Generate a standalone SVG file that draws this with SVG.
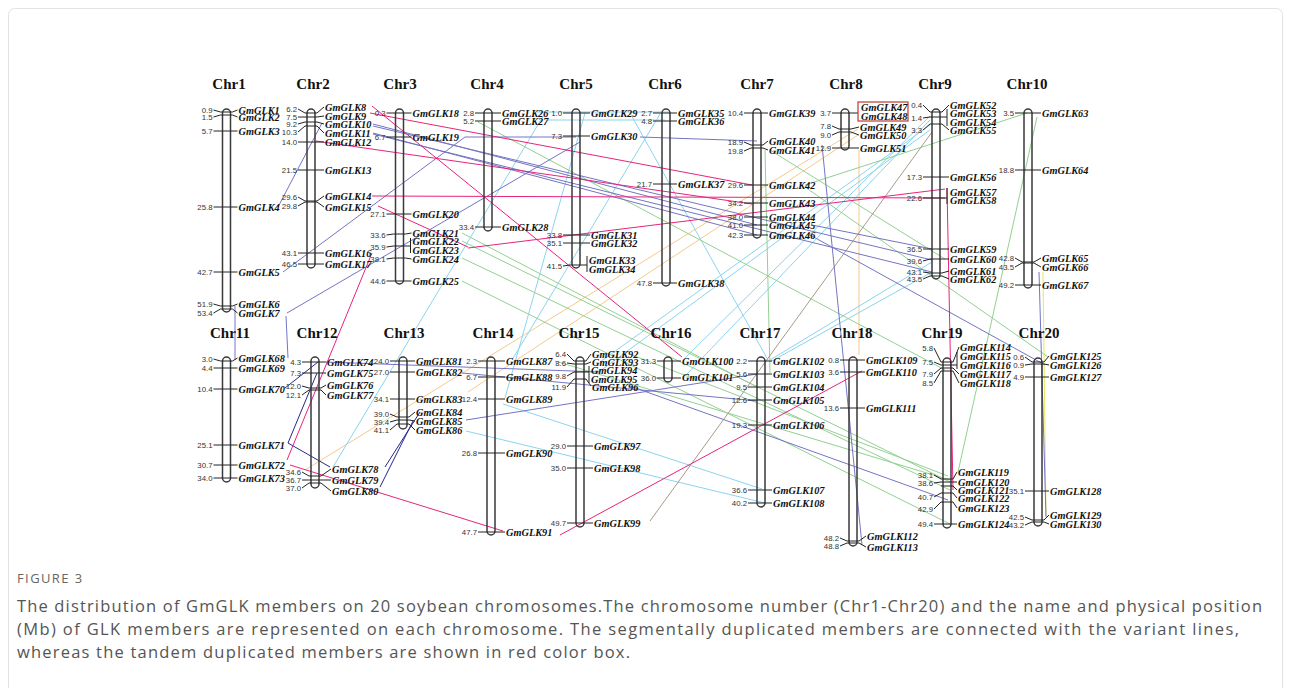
<svg xmlns="http://www.w3.org/2000/svg" width="1291" height="688" viewBox="0 0 1291 688">
<style>
.bg{fill:#fff}
.frame{fill:none;stroke:#e2e2e2;stroke-width:1}
.title{font-family:"Liberation Serif",serif;font-weight:bold;font-size:15px;fill:#111;text-anchor:middle}
.chr{fill:none;stroke:#3a3a3a;stroke-width:1.5}
.t{fill:none;stroke:#222;stroke-width:1}
.n{font-family:"Liberation Sans",Arial,sans-serif;font-size:7.8px;fill:#333;text-anchor:end}
.g{font-family:"Liberation Serif",serif;font-style:italic;font-weight:bold;font-size:10.3px;fill:#111}
.box{fill:none;stroke:#c0392b;stroke-width:1.2}
.c path{fill:none;stroke-width:1}
.pk{stroke:#e6247a}
.pu{stroke:#7474c4}
.nv{stroke:#262690}
.cy{stroke:#8ad4ef}
.gr{stroke:#92d092}
.or{stroke:#f6c98c}
.br{stroke:#a89a88}
.ye{stroke:#e8e85a}
.cap{font-family:"Open Sans","Liberation Sans",sans-serif;font-size:16.5px;fill:#555}
.fig{font-family:"Open Sans","Liberation Sans",sans-serif;font-size:13px;fill:#666;letter-spacing:1.4px}
</style>
<rect class="bg" x="0" y="0" width="1291" height="688"/>
<rect class="frame" x="8.5" y="8.5" width="1274" height="700" rx="6"/>

<g id="connectors" class="c">
<path class="or" d="M858 129L305 470"/>
<path class="or" d="M858 135L468 392"/>
<path class="or" d="M859 150L859 355"/>
<path class="cy" d="M537 112L670 112"/>
<path class="cy" d="M545 120L665 120"/>
<path class="cy" d="M585 113L505 398"/>
<path class="cy" d="M545 113L333 467"/>
<path class="cy" d="M930 116L685 358"/>
<path class="cy" d="M930 120L685 376"/>
<path class="cy" d="M930 125L600 362"/>
<path class="cy" d="M930 130L600 371"/>
<path class="cy" d="M932 262L770 360"/>
<path class="cy" d="M932 272L770 362"/>
<path class="cy" d="M630 113L768 360"/>
<path class="cy" d="M660 114L512 360"/>
<path class="cy" d="M503 404L762 489"/>
<path class="cy" d="M466 431L765 503"/>
<path class="gr" d="M478 122L945 370"/>
<path class="gr" d="M1027 113L805 185"/>
<path class="gr" d="M1037 117L958 472"/>
<path class="gr" d="M770 150L945 259"/>
<path class="gr" d="M805 187L1048 357"/>
<path class="gr" d="M765 150L770 373"/>
<path class="gr" d="M462 241L950 482"/>
<path class="gr" d="M462 258L950 490"/>
<path class="gr" d="M462 281L950 524"/>
<path class="gr" d="M462 233L757 387"/>
<path class="gr" d="M555 361L950 480"/>
<path class="gr" d="M632 355L948 476"/>
<path class="br" d="M650 521L932 132"/>
<path class="ye" d="M1043 272L1046 516"/>
<path class="pu" d="M278 207L322 123"/>
<path class="pu" d="M283 272L465 137"/>
<path class="pu" d="M287 313L580 142"/>
<path class="pu" d="M286 316L288 358"/>
<path class="pu" d="M235 306L235 360"/>
<path class="pu" d="M465 137L576 137"/>
<path class="pu" d="M640 137L757 141"/>
<path class="pu" d="M373 124L757 225"/>
<path class="pu" d="M373 133L757 235"/>
<path class="pu" d="M373 126L932 260"/>
<path class="pu" d="M373 134L932 272"/>
<path class="pu" d="M822 145L862 545"/>
<path class="pu" d="M1039 272L1046 517"/>
<path class="pu" d="M466 420L757 374"/>
<path class="pu" d="M810 235L1045 365"/>
<path class="pu" d="M812 225L932 249"/>
<path class="pu" d="M630 386L948 500"/>
<path class="pu" d="M462 373L757 401"/>
<path class="pu" d="M326 362L600 372"/>
<path class="nv" d="M318 362L285 388"/>
<path class="nv" d="M317 373L288 443"/>
<path class="nv" d="M288 443L330 467"/>
<path class="nv" d="M385 467L420 412"/>
<path class="nv" d="M380 487L413 421"/>
<path class="pk" d="M372 106L682 357"/>
<path class="pk" d="M370 113L752 185"/>
<path class="pk" d="M316 141L752 204"/>
<path class="pk" d="M372 196L945 198"/>
<path class="pk" d="M378 206L468 247"/>
<path class="pk" d="M468 248L945 189"/>
<path class="pk" d="M372 253L287 460"/>
<path class="pk" d="M290 465L503 531"/>
<path class="pk" d="M560 535L862 371"/>
<path class="pk" d="M947 188L953 490"/>
</g>

<g id="chr1">
<text class="title" x="229" y="89">Chr1</text>
<rect class="chr" x="222.5" y="109" width="8" height="203" rx="4"/>
<path class="t" d="M213.5 110L220.5 112H232.5L237.5 110M213.5 117L220.5 115H232.5L237.5 117M213.5 131H237.5M213.5 207H237.5M213.5 272H237.5M213.5 304L220.5 306H232.5L237.5 304M213.5 313L220.5 309H232.5L237.5 313"/>
<text class="n" x="212.5" y="112.8">0.9</text><text class="g" x="238.5" y="113.7">GmGLK1</text>
<text class="n" x="212.5" y="119.8">1.5</text><text class="g" x="238.5" y="120.7">GmGLK2</text>
<text class="n" x="212.5" y="133.8">5.7</text><text class="g" x="238.5" y="134.7">GmGLK3</text>
<text class="n" x="212.5" y="209.8">25.8</text><text class="g" x="238.5" y="210.7">GmGLK4</text>
<text class="n" x="212.5" y="274.8">42.7</text><text class="g" x="238.5" y="275.7">GmGLK5</text>
<text class="n" x="212.5" y="306.8">51.9</text><text class="g" x="238.5" y="307.7">GmGLK6</text>
<text class="n" x="212.5" y="315.8">53.4</text><text class="g" x="238.5" y="316.7">GmGLK7</text>
</g>

<g id="chr2">
<text class="title" x="313" y="89">Chr2</text>
<rect class="chr" x="307" y="109" width="8" height="159" rx="4"/>
<path class="t" d="M298 109L305 113H317L324 107M298 117L305 117H317L324 116M298 124L305 122H317L324 124M298 132L305 126H317L324 133M298 142H324M298 170H324M298 197L305 201H317L324 196M298 206L305 202H317L324 207M298 253H324M298 264H324"/>
<text class="n" x="297" y="111.8">6.2</text><text class="g" x="325" y="110.7">GmGLK8</text>
<text class="n" x="297" y="119.8">7.5</text><text class="g" x="325" y="119.7">GmGLK9</text>
<text class="n" x="297" y="126.8">9.2</text><text class="g" x="325" y="127.7">GmGLK10</text>
<text class="n" x="297" y="134.8">10.3</text><text class="g" x="325" y="136.7">GmGLK11</text>
<text class="n" x="297" y="144.8">14.0</text><text class="g" x="325" y="145.7">GmGLK12</text>
<text class="n" x="297" y="172.8">21.5</text><text class="g" x="325" y="173.7">GmGLK13</text>
<text class="n" x="297" y="199.8">29.6</text><text class="g" x="325" y="199.7">GmGLK14</text>
<text class="n" x="297" y="208.8">29.8</text><text class="g" x="325" y="210.7">GmGLK15</text>
<text class="n" x="297" y="255.8">43.1</text><text class="g" x="325" y="256.7">GmGLK16</text>
<text class="n" x="297" y="266.8">46.5</text><text class="g" x="325" y="267.7">GmGLK17</text>
</g>

<g id="chr3">
<text class="title" x="400" y="89">Chr3</text>
<rect class="chr" x="395.5" y="109" width="8" height="175" rx="4"/>
<path class="t" d="M386.5 113H411.5M386.5 137H411.5M386.5 214H411.5M386.5 235L393.5 234H405.5L411.5 233M386.5 247L393.5 246H410.5M410.5 238V253M386.5 259L393.5 258H405.5L411.5 259M386.5 281H411.5"/>
<text class="n" x="385.5" y="115.8">0.3</text><text class="g" x="412.5" y="116.7">GmGLK18</text>
<text class="n" x="385.5" y="139.8">6.7</text><text class="g" x="412.5" y="140.7">GmGLK19</text>
<text class="n" x="385.5" y="216.8">27.1</text><text class="g" x="412.5" y="217.7">GmGLK20</text>
<text class="n" x="385.5" y="237.8">33.6</text><text class="g" x="412.5" y="236.7">GmGLK21</text>
<text class="n" x="385.5" y="249.8">35.9</text><text class="g" x="412.5" y="244.7">GmGLK22</text><text class="g" x="412.5" y="253.7">GmGLK23</text>
<text class="n" x="385.5" y="261.8">38.1</text><text class="g" x="412.5" y="262.7">GmGLK24</text>
<text class="n" x="385.5" y="283.8">44.6</text><text class="g" x="412.5" y="284.7">GmGLK25</text>
</g>

<g id="chr4">
<text class="title" x="487" y="89">Chr4</text>
<rect class="chr" x="484" y="109" width="8" height="122" rx="4"/>
<path class="t" d="M475 113H501M475 121H501M475 227H501"/>
<text class="n" x="474" y="115.8">2.8</text><text class="g" x="502" y="116.7">GmGLK26</text>
<text class="n" x="474" y="123.8">5.2</text><text class="g" x="502" y="124.7">GmGLK27</text>
<text class="n" x="474" y="229.8">33.4</text><text class="g" x="502" y="230.7">GmGLK28</text>
</g>

<g id="chr5">
<text class="title" x="576" y="89">Chr5</text>
<rect class="chr" x="572" y="109" width="8" height="159" rx="4"/>
<path class="t" d="M563 113H590M563 136H590M563 235H590M563 243H590M563 266L570 265H587M587 256V272"/>
<text class="n" x="562" y="115.8">1.0</text><text class="g" x="591" y="116.7">GmGLK29</text>
<text class="n" x="562" y="138.8">7.3</text><text class="g" x="591" y="139.7">GmGLK30</text>
<text class="n" x="562" y="237.8">33.8</text><text class="g" x="591" y="238.7">GmGLK31</text>
<text class="n" x="562" y="245.8">35.1</text><text class="g" x="591" y="246.7">GmGLK32</text>
<text class="n" x="562" y="268.8">41.5</text><text class="g" x="589" y="263.7">GmGLK33</text><text class="g" x="589" y="272.7">GmGLK34</text>
</g>

<g id="chr6">
<text class="title" x="665" y="89">Chr6</text>
<rect class="chr" x="662" y="109" width="8" height="177" rx="4"/>
<path class="t" d="M653 113H677M653 121H677M653 184H677M653 283H677"/>
<text class="n" x="652" y="115.8">2.7</text><text class="g" x="678" y="116.7">GmGLK35</text>
<text class="n" x="652" y="123.8">4.8</text><text class="g" x="678" y="124.7">GmGLK36</text>
<text class="n" x="652" y="186.8">21.7</text><text class="g" x="678" y="187.7">GmGLK37</text>
<text class="n" x="652" y="285.8">47.8</text><text class="g" x="678" y="286.7">GmGLK38</text>
</g>

<g id="chr7">
<text class="title" x="757" y="89">Chr7</text>
<rect class="chr" x="753" y="109" width="8" height="129" rx="4"/>
<path class="t" d="M744 113H768M744 142L751 145H763L768 141M744 151L751 148H763L768 150M744 185H768M744 203H768M744 217H768M744 225H768M744 235H768"/>
<text class="n" x="743" y="115.8">10.4</text><text class="g" x="769" y="116.7">GmGLK39</text>
<text class="n" x="743" y="144.8">18.9</text><text class="g" x="769" y="144.7">GmGLK40</text>
<text class="n" x="743" y="153.8">19.8</text><text class="g" x="769" y="153.7">GmGLK41</text>
<text class="n" x="743" y="187.8">29.6</text><text class="g" x="769" y="188.7">GmGLK42</text>
<text class="n" x="743" y="205.8">34.2</text><text class="g" x="769" y="206.7">GmGLK43</text>
<text class="n" x="743" y="219.8">38.0</text><text class="g" x="769" y="220.7">GmGLK44</text>
<text class="n" x="743" y="227.8">41.0</text><text class="g" x="769" y="228.7">GmGLK45</text>
<text class="n" x="743" y="237.8">42.3</text><text class="g" x="769" y="238.7">GmGLK46</text>
</g>

<g id="chr8">
<text class="title" x="846" y="89">Chr8</text>
<rect class="chr" x="841" y="109" width="8" height="41" rx="4"/>
<path class="t" d="M832 113H858M832 126L839 129H851L859 127M832 135L839 132H851L859 135M832 148H859"/>
<rect class="box" x="858" y="102" width="50" height="19"/>
<text class="n" x="831" y="115.8">3.7</text><text class="g" x="861" y="110.7">GmGLK47</text><text class="g" x="861" y="119.7">GmGLK48</text>
<text class="n" x="831" y="128.8">7.8</text><text class="g" x="860" y="130.7">GmGLK49</text>
<text class="n" x="831" y="137.8">9.0</text><text class="g" x="860" y="138.7">GmGLK50</text>
<text class="n" x="831" y="150.8">12.9</text><text class="g" x="860" y="151.7">GmGLK51</text>
</g>

<g id="chr9">
<text class="title" x="935" y="89">Chr9</text>
<rect class="chr" x="932" y="109" width="8" height="170" rx="4"/>
<path class="t" d="M923 105L930 112H942L949 105M923 118L930 117H947M947 109V126M923 130L930 124H942L949 130M923 177H949M923 198H947M947 188V204M923 249H949M923 261L930 259H942L949 259M923 272L930 273H942L949 271M923 279L930 276H942L949 279"/>
<text class="n" x="922" y="107.8">0.4</text><text class="g" x="950" y="108.7">GmGLK52</text>
<text class="n" x="922" y="120.8">1.4</text><text class="g" x="950" y="116.7">GmGLK53</text><text class="g" x="950" y="125.7">GmGLK54</text>
<text class="n" x="922" y="132.8">3.3</text><text class="g" x="950" y="133.7">GmGLK55</text>
<text class="n" x="922" y="179.8">17.3</text><text class="g" x="950" y="180.7">GmGLK56</text>
<text class="n" x="922" y="200.8">22.6</text><text class="g" x="950" y="195.7">GmGLK57</text><text class="g" x="950" y="203.7">GmGLK58</text>
<text class="n" x="922" y="251.8">36.5</text><text class="g" x="950" y="252.7">GmGLK59</text>
<text class="n" x="922" y="263.8">39.6</text><text class="g" x="950" y="262.7">GmGLK60</text>
<text class="n" x="922" y="274.8">43.1</text><text class="g" x="950" y="274.7">GmGLK61</text>
<text class="n" x="922" y="281.8">43.5</text><text class="g" x="950" y="282.7">GmGLK62</text>
</g>

<g id="chr10">
<text class="title" x="1027" y="89">Chr10</text>
<rect class="chr" x="1024" y="109" width="8" height="179" rx="4"/>
<path class="t" d="M1015 113H1041M1015 170H1041M1015 258L1022 262H1034L1041 258M1015 267L1022 263H1034L1041 267M1015 285H1041"/>
<text class="n" x="1014" y="115.8">3.5</text><text class="g" x="1042" y="116.7">GmGLK63</text>
<text class="n" x="1014" y="172.8">18.8</text><text class="g" x="1042" y="173.7">GmGLK64</text>
<text class="n" x="1014" y="260.8">42.8</text><text class="g" x="1042" y="261.7">GmGLK65</text>
<text class="n" x="1014" y="269.8">43.5</text><text class="g" x="1042" y="270.7">GmGLK66</text>
<text class="n" x="1014" y="287.8">49.2</text><text class="g" x="1042" y="288.7">GmGLK67</text>
</g>

<g id="chr11">
<text class="title" x="230" y="338">Chr11</text>
<rect class="chr" x="222.5" y="357" width="8" height="125" rx="4"/>
<path class="t" d="M213.5 359L220.5 361H232.5L237.5 358M213.5 368H237.5M213.5 389H237.5M213.5 445H237.5M213.5 465H237.5M213.5 478H237.5"/>
<text class="n" x="212.5" y="361.8">3.0</text><text class="g" x="238.5" y="361.7">GmGLK68</text>
<text class="n" x="212.5" y="370.8">4.4</text><text class="g" x="238.5" y="371.7">GmGLK69</text>
<text class="n" x="212.5" y="391.8">10.4</text><text class="g" x="238.5" y="392.7">GmGLK70</text>
<text class="n" x="212.5" y="447.8">25.1</text><text class="g" x="238.5" y="448.7">GmGLK71</text>
<text class="n" x="212.5" y="467.8">30.7</text><text class="g" x="238.5" y="468.7">GmGLK72</text>
<text class="n" x="212.5" y="480.8">34.0</text><text class="g" x="238.5" y="481.7">GmGLK73</text>
</g>

<g id="chr12">
<text class="title" x="317" y="338">Chr12</text>
<rect class="chr" x="311" y="357" width="8" height="131" rx="4"/>
<path class="t" d="M302 362H326M302 373H326M302 386L309 388H321L326 385M302 395L309 390H321L326 395M302 472L309 476H321L331 469M302 480H331M302 488L309 483H321L331 491"/>
<text class="n" x="301" y="364.8">4.3</text><text class="g" x="327" y="365.7">GmGLK74</text>
<text class="n" x="301" y="375.8">7.3</text><text class="g" x="327" y="376.7">GmGLK75</text>
<text class="n" x="301" y="388.8">12.0</text><text class="g" x="327" y="388.7">GmGLK76</text>
<text class="n" x="301" y="397.8">12.1</text><text class="g" x="327" y="398.7">GmGLK77</text>
<text class="n" x="301" y="474.8">34.6</text><text class="g" x="332" y="472.7">GmGLK78</text>
<text class="n" x="301" y="482.8">36.7</text><text class="g" x="332" y="483.7">GmGLK79</text>
<text class="n" x="301" y="490.8">37.0</text><text class="g" x="332" y="494.7">GmGLK80</text>
</g>

<g id="chr13">
<text class="title" x="404" y="338">Chr13</text>
<rect class="chr" x="399" y="357" width="8" height="72" rx="4"/>
<path class="t" d="M390 361H415M390 372H415M390 399H415M390 414L397 417H409L415 412M390 422L397 420H409L415 421M390 430L397 424H409L415 430"/>
<text class="n" x="389" y="363.8">24.0</text><text class="g" x="416" y="364.7">GmGLK81</text>
<text class="n" x="389" y="374.8">27.0</text><text class="g" x="416" y="375.7">GmGLK82</text>
<text class="n" x="389" y="401.8">34.1</text><text class="g" x="416" y="402.7">GmGLK83</text>
<text class="n" x="389" y="416.8">39.0</text><text class="g" x="416" y="415.7">GmGLK84</text>
<text class="n" x="389" y="424.8">39.4</text><text class="g" x="416" y="424.7">GmGLK85</text>
<text class="n" x="389" y="432.8">41.1</text><text class="g" x="416" y="433.7">GmGLK86</text>
</g>

<g id="chr14">
<text class="title" x="493" y="338">Chr14</text>
<rect class="chr" x="487" y="357" width="8" height="178" rx="4"/>
<path class="t" d="M478 361H505M478 377H505M478 399H505M478 453H505M478 532H505"/>
<text class="n" x="477" y="363.8">2.3</text><text class="g" x="506" y="364.7">GmGLK87</text>
<text class="n" x="477" y="379.8">6.7</text><text class="g" x="506" y="380.7">GmGLK88</text>
<text class="n" x="477" y="401.8">12.4</text><text class="g" x="506" y="402.7">GmGLK89</text>
<text class="n" x="477" y="455.8">26.8</text><text class="g" x="506" y="456.7">GmGLK90</text>
<text class="n" x="477" y="534.8">47.7</text><text class="g" x="506" y="535.7">GmGLK91</text>
</g>

<g id="chr15">
<text class="title" x="579" y="338">Chr15</text>
<rect class="chr" x="576" y="357" width="8" height="170" rx="4"/>
<path class="t" d="M567 354L574 361H586L591 354M567 363L574 364H586L591 362M567 376L574 372H589M589 366V383M567 387L574 379H586L591 386M567 446H593M567 468H593M567 523H593"/>
<text class="n" x="566" y="356.8">6.4</text><text class="g" x="592" y="357.7">GmGLK92</text>
<text class="n" x="566" y="365.8">8.6</text><text class="g" x="592" y="365.7">GmGLK93</text>
<text class="n" x="566" y="378.8">9.8</text><text class="g" x="591" y="373.7">GmGLK94</text><text class="g" x="591" y="382.7">GmGLK95</text>
<text class="n" x="566" y="389.8">11.9</text><text class="g" x="592" y="390.7">GmGLK96</text>
<text class="n" x="566" y="448.8">29.0</text><text class="g" x="594" y="449.7">GmGLK97</text>
<text class="n" x="566" y="470.8">35.0</text><text class="g" x="594" y="471.7">GmGLK98</text>
<text class="n" x="566" y="525.8">49.7</text><text class="g" x="594" y="526.7">GmGLK99</text>
</g>

<g id="chr16">
<text class="title" x="671" y="338">Chr16</text>
<rect class="chr" x="664" y="357" width="8" height="25" rx="4"/>
<path class="t" d="M657 361H681M657 378H681"/>
<text class="n" x="656" y="363.8">31.3</text><text class="g" x="682" y="364.7">GmGLK100</text>
<text class="n" x="656" y="380.8">36.0</text><text class="g" x="682" y="380.7">GmGLK101</text>
</g>

<g id="chr17">
<text class="title" x="760" y="338">Chr17</text>
<rect class="chr" x="757" y="357" width="8" height="150" rx="4"/>
<path class="t" d="M748 361H772M748 374H772M748 387H772M748 400H772M748 425H772M748 490H772M748 503H772"/>
<text class="n" x="747" y="363.8">2.2</text><text class="g" x="773" y="364.7">GmGLK102</text>
<text class="n" x="747" y="376.8">5.6</text><text class="g" x="773" y="377.7">GmGLK103</text>
<text class="n" x="747" y="389.8">9.5</text><text class="g" x="773" y="390.7">GmGLK104</text>
<text class="n" x="747" y="402.8">12.6</text><text class="g" x="773" y="403.7">GmGLK105</text>
<text class="n" x="747" y="427.8">19.3</text><text class="g" x="773" y="428.7">GmGLK106</text>
<text class="n" x="747" y="492.8">36.6</text><text class="g" x="773" y="493.7">GmGLK107</text>
<text class="n" x="747" y="505.8">40.2</text><text class="g" x="773" y="506.7">GmGLK108</text>
</g>

<g id="chr18">
<text class="title" x="852" y="338">Chr18</text>
<rect class="chr" x="849" y="357" width="8" height="189" rx="4"/>
<path class="t" d="M840 360H865M840 372H865M840 408H865M840 538L847 541H859L866 536M840 546L847 543H859L866 547"/>
<text class="n" x="839" y="362.8">0.8</text><text class="g" x="866" y="363.7">GmGLK109</text>
<text class="n" x="839" y="374.8">3.6</text><text class="g" x="866" y="375.7">GmGLK110</text>
<text class="n" x="839" y="410.8">13.6</text><text class="g" x="866" y="411.7">GmGLK111</text>
<text class="n" x="839" y="540.8">48.2</text><text class="g" x="867" y="539.7">GmGLK112</text>
<text class="n" x="839" y="548.8">48.8</text><text class="g" x="867" y="550.7">GmGLK113</text>
</g>

<g id="chr19">
<text class="title" x="942" y="338">Chr19</text>
<rect class="chr" x="943" y="358" width="8" height="170" rx="4"/>
<path class="t" d="M934 348L941 362H953L959 347M934 362L941 365H957M957 352V369M934 374L941 368H953L959 374M934 383L941 371H953L959 383M934 475L941 479H953L957 472M934 483L941 482H953L957 482M941 486H953L957 490M934 497L941 493H953L957 498M934 509L941 502H953L957 508M934 524H957"/>
<text class="n" x="933" y="350.8">5.8</text><text class="g" x="960" y="350.7">GmGLK114</text>
<text class="n" x="933" y="364.8">7.5</text><text class="g" x="960" y="359.7">GmGLK115</text><text class="g" x="960" y="368.7">GmGLK116</text>
<text class="n" x="933" y="376.8">7.9</text><text class="g" x="960" y="377.7">GmGLK117</text>
<text class="n" x="933" y="385.8">8.5</text><text class="g" x="960" y="386.7">GmGLK118</text>
<text class="n" x="933" y="477.8">38.1</text><text class="g" x="958" y="475.7">GmGLK119</text>
<text class="n" x="933" y="485.8">38.6</text><text class="g" x="958" y="485.7">GmGLK120</text>
<text class="g" x="958" y="493.7">GmGLK121</text>
<text class="n" x="933" y="499.8">40.7</text><text class="g" x="958" y="501.7">GmGLK122</text>
<text class="n" x="933" y="511.8">42.9</text><text class="g" x="958" y="511.7">GmGLK123</text>
<text class="n" x="933" y="526.8">49.4</text><text class="g" x="958" y="527.7">GmGLK124</text>
</g>

<g id="chr20">
<text class="title" x="1039" y="338">Chr20</text>
<rect class="chr" x="1034" y="358" width="8" height="168" rx="4"/>
<path class="t" d="M1025 357L1032 362H1044L1049 356M1025 365L1032 364H1044L1049 365M1025 377H1049M1025 491H1049M1025 517L1032 520H1044L1049 515M1025 525L1032 522H1044L1049 524"/>
<text class="n" x="1024" y="359.8">0.6</text><text class="g" x="1050" y="359.7">GmGLK125</text>
<text class="n" x="1024" y="367.8">0.9</text><text class="g" x="1050" y="368.7">GmGLK126</text>
<text class="n" x="1024" y="379.8">4.9</text><text class="g" x="1050" y="380.7">GmGLK127</text>
<text class="n" x="1024" y="493.8">35.1</text><text class="g" x="1050" y="494.7">GmGLK128</text>
<text class="n" x="1024" y="519.8">42.5</text><text class="g" x="1050" y="518.7">GmGLK129</text>
<text class="n" x="1024" y="527.8">43.2</text><text class="g" x="1050" y="527.7">GmGLK130</text>
</g>

<g id="caption">
<text class="fig" x="17" y="583">FIGURE 3</text>
<text class="cap" x="17" y="612" textLength="1245" lengthAdjust="spacing">The distribution of GmGLK members on 20 soybean chromosomes.The chromosome number (Chr1-Chr20) and the name and physical position</text>
<text class="cap" x="17" y="635" textLength="1222" lengthAdjust="spacing">(Mb) of GLK members are represented on each chromosome. The segmentally duplicated members are connected with the variant lines,</text>
<text class="cap" x="17" y="658" textLength="613" lengthAdjust="spacing">whereas the tandem duplicated members are shown in red color box.</text>
</g>
</svg>
